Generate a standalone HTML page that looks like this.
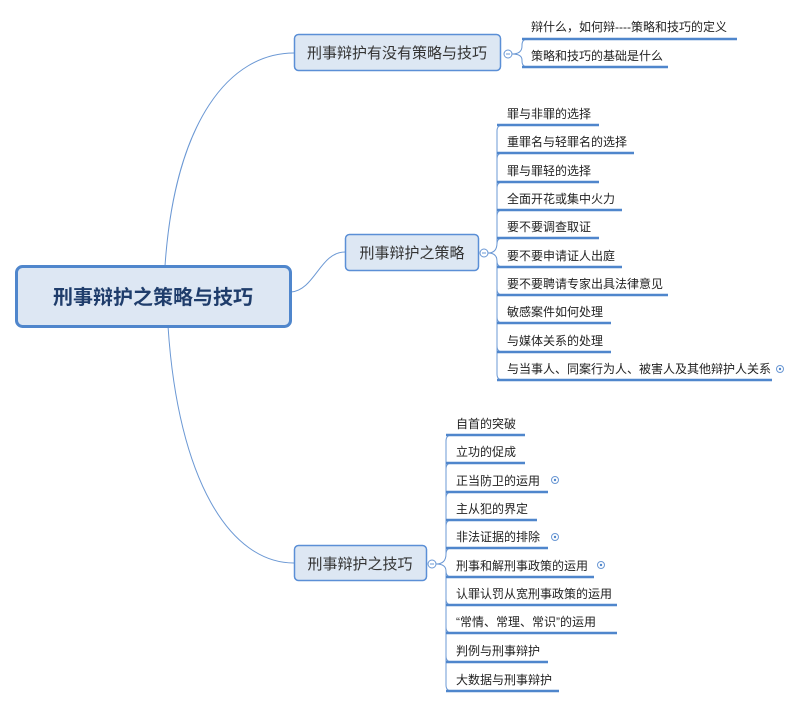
<!DOCTYPE html>
<html><head><meta charset="utf-8"><style>
body{margin:0;background:#fff;}
svg text{font-family:"Liberation Sans","Noto Sans CJK SC",sans-serif;}
</style></head><body>
<svg width="798" height="706" viewBox="0 0 798 706" xmlns="http://www.w3.org/2000/svg">
<g fill="none" stroke="#6b98d4" stroke-width="1">
<path d="M165,266 C175,120 230,53 294,53"/>
<path d="M291,292 C315,290 320,252 345,252"/>
<path d="M168,326 C178,480 230,563 294,563"/>
</g>
<rect x="16.5" y="266.5" width="274" height="60" rx="6" fill="#dde7f3" stroke="#4f86cc" stroke-width="3"/>
<text x="153" y="304" font-size="20" font-weight="bold" fill="#1f3d6b" text-anchor="middle">刑事辩护之策略与技巧</text>

<rect x="294.5" y="34.5" width="206" height="36" rx="4" fill="#dde7f3" stroke="#5b8fd6" stroke-width="1.5"/>
<text x="397" y="58" font-size="15" fill="#333" text-anchor="middle">刑事辩护有没有策略与技巧</text>
<rect x="345.5" y="234.5" width="133" height="36" rx="4" fill="#dde7f3" stroke="#5b8fd6" stroke-width="1.5"/>
<text x="412" y="258" font-size="15" fill="#333" text-anchor="middle">刑事辩护之策略</text>
<rect x="294.5" y="545.5" width="132" height="35" rx="4" fill="#dde7f3" stroke="#5b8fd6" stroke-width="1.5"/>
<text x="360" y="569" font-size="15" fill="#333" text-anchor="middle">刑事辩护之技巧</text>

<g id="c" fill="none" stroke="#6b98d4" stroke-width="1">
<circle cx="508" cy="54" r="4" fill="#fff"/>
<circle cx="484" cy="253" r="4" fill="#fff"/>
<circle cx="432" cy="564" r="4" fill="#fff"/>
</g>
<g stroke="#6b98d4" stroke-width="1"><line x1="506" y1="54" x2="510" y2="54"/><line x1="482" y1="253" x2="486" y2="253"/><line x1="430" y1="564" x2="434" y2="564"/></g>

<g fill="none" stroke="#6b98d4" stroke-width="1">
<path d="M512,54 Q522,54 522,46 L522,45 Q522,39 528,39"/>
<path d="M512,54 Q522,54 522,60 L522,61 Q522,67 528,67"/>
<path d="M488,253 Q497,253 497,243 L497,131 Q497,125 503,125"/>
<path d="M497,243 L497,159 Q497,153 503,153"/>
<path d="M497,243 L497,188 Q497,182 503,182"/>
<path d="M497,243 L497,216 Q497,210 503,210"/>
<path d="M497,243 L497,244 Q497,238 503,238"/>
<path d="M488,253 Q497,253 497,261 Q497,267 503,267"/>
<path d="M497,261 L497,289 Q497,295 503,295"/>
<path d="M497,261 L497,317 Q497,323 503,323"/>
<path d="M497,261 L497,346 Q497,352 503,352"/>
<path d="M497,261 L497,374 Q497,380 503,380"/>
<path d="M436,564 Q446,564 446,554 L446,441 Q446,435 452,435"/>
<path d="M446,554 L446,469 Q446,463 452,463"/>
<path d="M446,554 L446,498 Q446,492 452,492"/>
<path d="M446,554 L446,526 Q446,520 452,520"/>
<path d="M446,554 L446,554 Q446,548 452,548"/>
<path d="M436,564 Q446,564 446,571 Q446,577 452,577"/>
<path d="M446,571 L446,599 Q446,605 452,605"/>
<path d="M446,571 L446,627 Q446,633 452,633"/>
<path d="M446,571 L446,656 Q446,662 452,662"/>
<path d="M446,571 L446,685 Q446,691 452,691"/>
</g>

<g stroke="#4f86cc" stroke-width="2.5">
<line x1="522" y1="39" x2="737" y2="39"/><line x1="522" y1="67" x2="668" y2="67"/>
<line x1="497" y1="125" x2="599" y2="125"/><line x1="497" y1="153" x2="634" y2="153"/>
<line x1="497" y1="182" x2="599" y2="182"/><line x1="497" y1="210" x2="622" y2="210"/>
<line x1="497" y1="238" x2="599" y2="238"/><line x1="497" y1="267" x2="622" y2="267"/>
<line x1="497" y1="295" x2="668" y2="295"/><line x1="497" y1="323" x2="611" y2="323"/>
<line x1="497" y1="352" x2="611" y2="352"/><line x1="497" y1="380" x2="772" y2="380"/>
<line x1="446" y1="435" x2="525" y2="435"/><line x1="446" y1="463" x2="525" y2="463"/>
<line x1="446" y1="492" x2="548" y2="492"/><line x1="446" y1="520" x2="537" y2="520"/>
<line x1="446" y1="548" x2="548" y2="548"/><line x1="446" y1="577" x2="594" y2="577"/>
<line x1="446" y1="605" x2="617" y2="605"/><line x1="446" y1="633" x2="617" y2="633"/>
<line x1="446" y1="662" x2="548" y2="662"/><line x1="446" y1="691" x2="559" y2="691"/>
</g>

<g font-size="12" fill="#222">
<text x="531" y="31">辩什么，如何辩----策略和技巧的定义</text>
<text x="531" y="60">策略和技巧的基础是什么</text>
<text x="507" y="118">罪与非罪的选择</text>
<text x="507" y="146">重罪名与轻罪名的选择</text>
<text x="507" y="175">罪与罪轻的选择</text>
<text x="507" y="203">全面开花或集中火力</text>
<text x="507" y="231">要不要调查取证</text>
<text x="507" y="260">要不要申请证人出庭</text>
<text x="507" y="288">要不要聘请专家出具法律意见</text>
<text x="507" y="316">敏感案件如何处理</text>
<text x="507" y="345">与媒体关系的处理</text>
<text x="507" y="373">与当事人、同案行为人、被害人及其他辩护人关系</text>
<text x="456" y="428">自首的突破</text>
<text x="456" y="456">立功的促成</text>
<text x="456" y="485">正当防卫的运用</text>
<text x="456" y="513">主从犯的界定</text>
<text x="456" y="541">非法证据的排除</text>
<text x="456" y="570">刑事和解刑事政策的运用</text>
<text x="456" y="598">认罪认罚从宽刑事政策的运用</text>
<text x="456" y="626">“常情、常理、常识”的运用</text>
<text x="456" y="655">判例与刑事辩护</text>
<text x="456" y="684">大数据与刑事辩护</text>
</g>

<g fill="#fff" stroke="#6b98d4" stroke-width="1">
<circle cx="780" cy="369" r="3.5"/><circle cx="555" cy="480" r="3.5"/>
<circle cx="555" cy="537" r="3.5"/><circle cx="601" cy="565" r="3.5"/>
</g>
<g fill="#4f86cc">
<circle cx="780" cy="369" r="1.2"/><circle cx="555" cy="480" r="1.2"/>
<circle cx="555" cy="537" r="1.2"/><circle cx="601" cy="565" r="1.2"/>
</g>
</svg>
</body></html>
